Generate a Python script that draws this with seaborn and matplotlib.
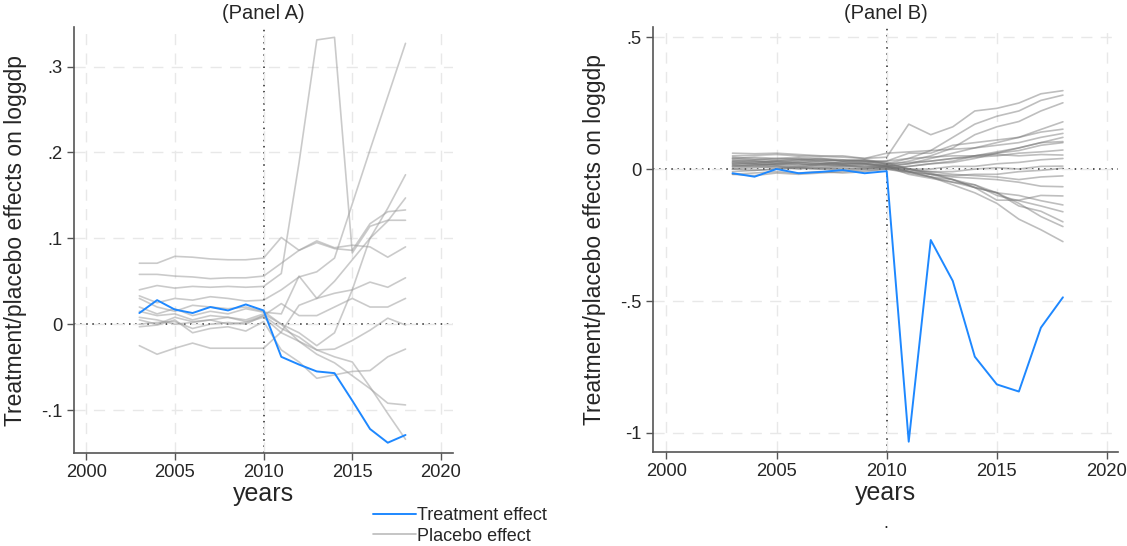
import pandas as pd
import matplotlib
matplotlib.use('Agg')
import matplotlib.pyplot as plt
from matplotlib.lines import Line2D
import seaborn as sns

years = list(range(2003, 2019))

# Panel A
treat_a = [0.013, 0.028, 0.017, 0.013, 0.020, 0.016, 0.023, 0.016,
           -0.038, -0.047, -0.055, -0.057, -0.089, -0.122, -0.138, -0.129]
placebo_a = [
    [0.071, 0.071, 0.079, 0.078, 0.076, 0.075, 0.075, 0.077, 0.101, 0.086, 0.097, 0.089, 0.092, 0.090, 0.078, 0.090],
    [0.058, 0.058, 0.056, 0.055, 0.053, 0.054, 0.054, 0.056, 0.071, 0.086, 0.095, 0.088, 0.086, 0.117, 0.131, 0.133],
    [0.040, 0.045, 0.042, 0.044, 0.043, 0.044, 0.043, 0.044, 0.059, 0.188, 0.331, 0.334, 0.083, 0.114, 0.121, 0.121],
    [0.033, 0.025, 0.030, 0.028, 0.032, 0.030, 0.027, 0.028, 0.040, 0.055, 0.061, 0.077, 0.140, 0.203, 0.265, 0.327],
    [0.030, 0.020, 0.015, 0.022, 0.020, 0.018, 0.020, 0.015, 0.000, -0.010, -0.025, -0.010, 0.040, 0.100, 0.135, 0.174],
    [-0.025, -0.035, -0.028, -0.022, -0.028, -0.028, -0.028, -0.028, -0.009, 0.022, 0.030, 0.050, 0.075, 0.100, 0.120, 0.147],
    [0.020, 0.012, 0.018, 0.010, 0.015, 0.012, 0.018, 0.014, 0.012, 0.056, 0.030, 0.036, 0.040, 0.049, 0.043, 0.054],
    [0.005, 0.000, 0.008, 0.003, 0.005, 0.008, 0.003, 0.010, 0.024, 0.010, 0.010, 0.020, 0.030, 0.020, 0.020, 0.030],
    [0.000, 0.002, 0.003, -0.005, 0.000, 0.002, 0.000, 0.010, -0.005, -0.015, -0.030, -0.029, -0.019, -0.007, 0.007, -0.001],
    [-0.003, -0.001, 0.005, -0.010, -0.005, -0.003, -0.008, 0.003, -0.030, -0.044, -0.063, -0.059, -0.055, -0.054, -0.038, -0.029],
    [0.015, 0.010, 0.012, 0.005, 0.010, 0.008, 0.005, 0.012, 0.000, -0.020, -0.035, -0.045, -0.060, -0.075, -0.092, -0.094],
    [0.008, 0.005, 0.000, 0.002, 0.005, 0.000, 0.002, 0.008, -0.010, -0.020, -0.030, -0.038, -0.044, -0.073, -0.104, -0.134],
]

# Panel B
treat_b = [-0.016, -0.029, 0.000, -0.016, -0.011, -0.004, -0.016, -0.008,
           -1.033, -0.269, -0.424, -0.711, -0.816, -0.843, -0.601, -0.486]
placebo_b = [
    [0.050, 0.052, 0.055, 0.050, 0.048, 0.045, 0.040, 0.045, 0.170, 0.130, 0.160, 0.220, 0.230, 0.250, 0.285, 0.297],
    [0.030, 0.035, 0.040, 0.038, 0.035, 0.030, 0.035, 0.020, 0.040, 0.070, 0.120, 0.170, 0.200, 0.220, 0.260, 0.280],
    [0.020, 0.025, 0.030, 0.025, 0.030, 0.020, 0.020, 0.015, 0.030, 0.050, 0.080, 0.130, 0.160, 0.180, 0.220, 0.251],
    [0.040, 0.045, 0.040, 0.045, 0.040, 0.035, 0.030, 0.030, 0.060, 0.060, 0.090, 0.100, 0.110, 0.120, 0.150, 0.179],
    [0.010, 0.015, 0.020, 0.015, 0.020, 0.015, 0.020, 0.010, 0.020, 0.040, 0.060, 0.080, 0.100, 0.120, 0.140, 0.151],
    [0.060, 0.058, 0.060, 0.055, 0.050, 0.050, 0.040, 0.060, 0.065, 0.070, 0.075, 0.080, 0.090, 0.100, 0.120, 0.135],
    [0.025, 0.020, 0.015, 0.020, 0.010, 0.015, 0.005, 0.010, 0.020, 0.030, 0.040, 0.050, 0.065, 0.080, 0.100, 0.104],
    [0.000, 0.005, 0.010, 0.000, 0.005, 0.010, 0.015, 0.005, 0.010, 0.020, 0.025, 0.040, 0.060, 0.070, 0.090, 0.100],
    [0.015, 0.010, 0.020, 0.025, 0.020, 0.025, 0.030, 0.020, 0.025, 0.030, 0.040, 0.045, 0.050, 0.060, 0.065, 0.072],
    [0.035, 0.030, 0.025, 0.030, 0.035, 0.030, 0.025, 0.030, 0.040, 0.045, 0.050, 0.050, 0.055, 0.050, 0.055, 0.053],
    [-0.010, -0.005, 0.000, 0.005, 0.000, -0.005, 0.000, 0.005, 0.000, 0.000, 0.010, 0.010, 0.020, 0.025, 0.035, 0.040],
    [0.020, 0.020, 0.025, 0.020, 0.015, 0.020, 0.020, 0.010, -0.005, -0.010, -0.010, 0.000, 0.005, 0.000, 0.010, 0.011],
    [0.005, 0.010, 0.005, 0.010, 0.005, 0.000, 0.005, 0.000, -0.010, -0.020, -0.025, -0.020, -0.020, -0.010, -0.005, 0.003],
    [0.030, 0.025, 0.030, 0.035, 0.025, 0.020, 0.025, 0.015, 0.000, -0.010, -0.020, -0.025, -0.030, -0.040, -0.030, -0.026],
    [0.010, 0.015, 0.010, 0.005, 0.015, 0.010, 0.010, 0.005, -0.010, -0.020, -0.030, -0.035, -0.040, -0.050, -0.065, -0.067],
    [0.045, 0.040, 0.035, 0.040, 0.030, 0.035, 0.030, 0.020, 0.000, -0.015, -0.040, -0.070, -0.118, -0.118, -0.100, -0.102],
    [-0.020, -0.015, -0.010, -0.015, -0.010, -0.015, -0.010, 0.000, -0.015, -0.030, -0.050, -0.070, -0.090, -0.100, -0.120, -0.136],
    [0.000, -0.005, 0.000, 0.005, 0.000, 0.005, 0.000, 0.010, -0.020, -0.035, -0.050, -0.060, -0.100, -0.120, -0.140, -0.162],
    [0.015, 0.020, 0.015, 0.010, 0.020, 0.015, 0.010, 0.015, -0.010, -0.030, -0.040, -0.070, -0.090, -0.140, -0.160, -0.200],
    [0.040, 0.035, 0.030, 0.035, 0.040, 0.030, 0.035, 0.025, 0.000, -0.020, -0.040, -0.060, -0.090, -0.130, -0.180, -0.218],
    [0.025, 0.030, 0.020, 0.025, 0.020, 0.025, 0.020, 0.010, -0.010, -0.030, -0.060, -0.090, -0.130, -0.190, -0.230, -0.275],
    [-0.020, -0.025, -0.015, -0.020, -0.015, -0.010, -0.005, 0.000, 0.010, 0.020, 0.030, 0.050, 0.060, 0.080, 0.100, 0.120],
]

a_ticks = [-0.1, 0, 0.1, 0.2, 0.3]
a_ticklabels = ['-.1', '0', '.1', '.2', '.3']
b_ticks = [-1, -0.5, 0, 0.5]
b_ticklabels = ['-1', '-.5', '0', '.5']
x_ticks = [2000, 2005, 2010, 2015, 2020]


def long_form(series_list):
    rows = []
    for i, s in enumerate(series_list):
        for yr, v in zip(years, s):
            rows.append({'unit': i, 'year': yr, 'effect': v})
    return pd.DataFrame(rows)


sns.set_theme(style="white")
plt.rcParams['font.family'] = ['Liberation Sans', 'DejaVu Sans']

blue = '#1e88ff'

fig = plt.figure(figsize=(11.27, 5.46), dpi=100)
ax_a = fig.add_axes([0.0657, 0.1703, 0.3363, 0.7802])
ax_b = fig.add_axes([0.5794, 0.1722, 0.4126, 0.7783])


def draw_panel(ax, placebo, treat, ylim, xlim, yticks, yticklabels, title, ylab_x,
               grey, alpha):
    sns.lineplot(data=long_form(placebo), x='year', y='effect', units='unit',
                 estimator=None, color=grey, alpha=alpha, lw=1.2, ax=ax)
    sns.lineplot(x=years, y=treat, color=blue, lw=1.4, ax=ax)
    ax.axvline(2010, color='#222222', lw=1.1, ls=(0, (1, 3)), zorder=0)
    ax.axhline(0, color='#222222', lw=1.1, ls=(0, (1, 3)), zorder=0)
    ax.set_xlim(*xlim)
    ax.set_ylim(*ylim)
    ax.set_xticks(x_ticks)
    ax.set_yticks(yticks)
    ax.set_yticklabels(yticklabels)
    ax.grid(True, color='#e8e8e8', lw=1.0, ls=(0, (8, 6)), zorder=-1)
    ax.set_axisbelow(True)
    for side in ['top', 'right']:
        ax.spines[side].set_visible(False)
    for side in ['left', 'bottom']:
        ax.spines[side].set_color('#555555')
        ax.spines[side].set_linewidth(1.2)
    ax.tick_params(axis='both', which='major', direction='out', length=5, width=1,
                   color='#555555', labelsize=13.2, pad=3, left=True, bottom=True)
    ax.set_title(title, fontsize=14.5, pad=6)
    ax.set_xlabel('years', fontsize=18)
    ax.set_ylabel('Treatment/placebo effects on loggdp', fontsize=16.5)
    ax.xaxis.set_label_coords(0.5, -0.068)
    # label coords give the right-hand (baseline/descender) edge of the rotated text
    ax.yaxis.set_label_coords(ylab_x, 0.5)


draw_panel(ax_a, placebo_a, treat_a, (-0.150, 0.346), (1999.32, 2020.68),
           a_ticks, a_ticklabels, '(Panel A)', -0.125, '#a0a0a0', 0.55)
draw_panel(ax_b, placebo_b, treat_b, (-1.072, 0.538), (1999.39, 2020.5),
           b_ticks, b_ticklabels, '(Panel B)', -0.100, '#707070', 0.45)

handles = [Line2D([], [], color=blue, lw=1.4), Line2D([], [], color='#bbbbbb', lw=1.2)]
fig.legend(handles, ['Treatment effect', 'Placebo effect'], loc='center',
           bbox_to_anchor=(460 / 1127, 1 - 526 / 546), frameon=False, fontsize=13,
           handlelength=2.4, handletextpad=0.05, labelspacing=0.2)
fig.text(886 / 1127, 1 - 523 / 546, '.', fontsize=13, ha='center', va='center')

fig.savefig('out.png', dpi=100)
